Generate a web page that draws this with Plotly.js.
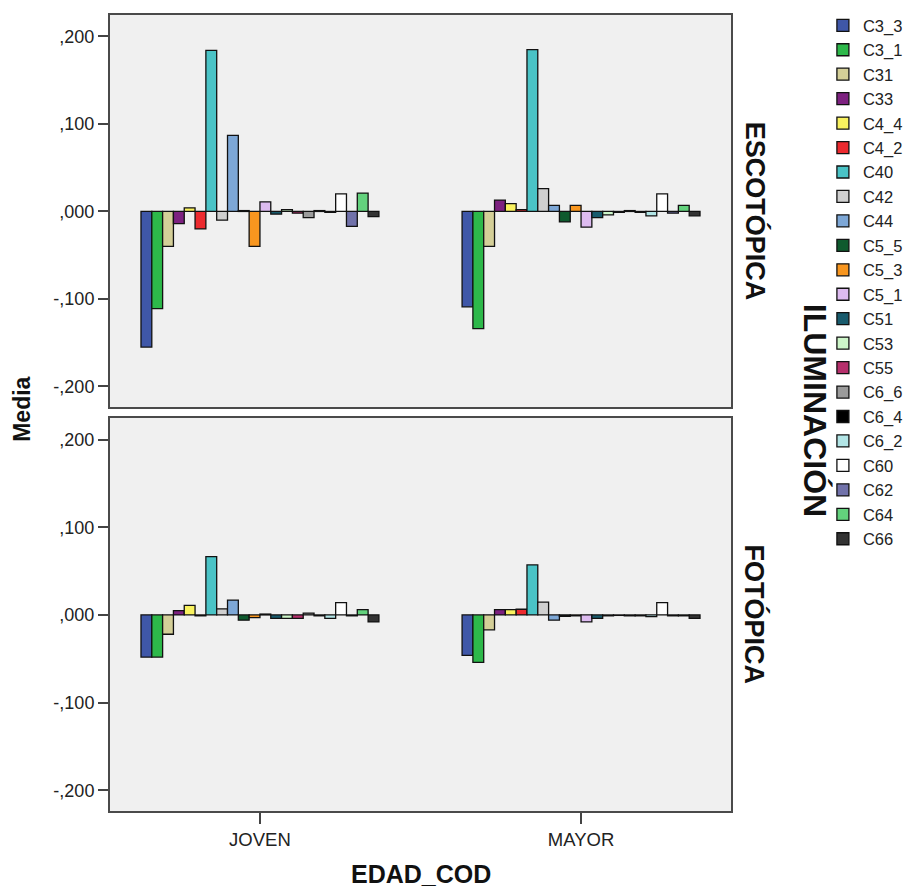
<!DOCTYPE html>
<html>
<head>
<meta charset="utf-8">
<script src="https://cdn.plot.ly/plotly-3.0.1.min.js"></script>
<style>
html,body{margin:0;padding:0;background:#fff;}
#chart{width:908px;height:891px;}
</style>
</head>
<body>
<div id="chart"></div>
<script>
const categories = ['JOVEN', 'MAYOR'];
const seriesNames = ['C3_3','C3_1','C31','C33','C4_4','C4_2','C40','C42','C44','C5_5','C5_3','C5_1','C51','C53','C55','C6_6','C6_4','C6_2','C60','C62','C64','C66'];
const seriesColors = ['#3F57A8','#2DB84A','#D4CF98','#7D2180','#F9F25F','#EC2A2F','#4AC3C6','#CFCFCF','#7DA7D6','#0F5A2E','#F8961F','#DDBBF0','#185B6D','#CDF6C9','#B6306C','#9B9B9B','#000000','#B2E5E6','#FFFFFF','#7172AA','#63D27D','#333333'];

// ESCOTÓPICA panel
const escJoven = [-0.155, -0.111, -0.040, -0.014, 0.004, -0.020, 0.184, -0.010, 0.087, 0.001, -0.040, 0.011, -0.003, 0.002, -0.002, -0.007, 0.001, -0.001, 0.020, -0.017, 0.021, -0.006];
const escMayor = [-0.109, -0.134, -0.040, 0.013, 0.009, 0.002, 0.185, 0.026, 0.007, -0.012, 0.007, -0.018, -0.007, -0.004, -0.001, 0.001, -0.001, -0.005, 0.020, -0.002, 0.007, -0.005];
// FOTÓPICA panel
const fotJoven = [-0.048, -0.048, -0.022, 0.005, 0.011, -0.001, 0.0665, 0.007, 0.017, -0.006, -0.003, 0.001, -0.004, -0.004, -0.004, 0.002, -0.001, -0.004, 0.014, -0.001, 0.006, -0.008];
const fotMayor = [-0.046, -0.054, -0.017, 0.006, 0.006, 0.0065, 0.057, 0.0145, -0.006, -0.0015, -0.001, -0.008, -0.004, -0.001, -0.0005, -0.001, -0.001, -0.002, 0.014, -0.001, -0.001, -0.004];

const yTickVals = [-0.2, -0.1, 0, 0.1, 0.2];
const yTickText = ['-,200', '-,100', ',000', ',100', ',200'];

const FONT = 'Liberation Sans, Arial, sans-serif';
const traces = [];
seriesNames.forEach((name, i) => {
  const common = {
    type: 'bar', name: name, legendgroup: name,
    marker: {color: seriesColors[i], line: {color: '#111', width: 1.3}},
    hoverinfo: 'name+y'
  };
  traces.push(Object.assign({}, common, {x: categories, y: [escJoven[i], escMayor[i]], xaxis: 'x', yaxis: 'y', showlegend: true}));
  traces.push(Object.assign({}, common, {x: categories, y: [fotJoven[i], fotMayor[i]], xaxis: 'x2', yaxis: 'y2', showlegend: false}));
});

const yAxisBase = {
  range: [-0.2235, 0.2245], tickvals: yTickVals, ticktext: yTickText,
  ticks: 'outside', ticklen: 10, tickwidth: 2, tickcolor: '#444',
  showline: true, linecolor: '#4a4a4a', linewidth: 2, mirror: true,
  showgrid: false, zeroline: false,
  tickfont: {family: FONT, size: 18, color: '#222'}
};
const xRange = [-0.467, 1.467];

const layout = {
  width: 908, height: 891,
  margin: {l: 110, r: 177, t: 15, b: 80, autoexpand: false},
  paper_bgcolor: '#ffffff', plot_bgcolor: '#F0F0F0',
  barmode: 'group', bargap: 0.259, bargroupgap: 0,
  font: {family: FONT, color: '#222'},
  xaxis: {anchor: 'y', range: xRange, showticklabels: false, ticks: '', showline: true, mirror: true, linecolor: '#4a4a4a', linewidth: 2, showgrid: false, zeroline: false},
  xaxis2: {anchor: 'y2', matches: 'x', range: xRange, ticks: 'outside', ticklen: 11, tickwidth: 2, tickcolor: '#444', showline: true, mirror: true, linecolor: '#4a4a4a', linewidth: 2, showgrid: false, zeroline: false, tickfont: {family: FONT, size: 18.5, color: '#222'}},
  yaxis: Object.assign({}, yAxisBase, {domain: [0.5075, 1], anchor: 'x'}),
  yaxis2: Object.assign({}, yAxisBase, {domain: [0, 0.4937], anchor: 'x2'}),
  showlegend: true,
  legend: {
    x: 1.148, xanchor: 'left', y: 1.0087, yanchor: 'top',
    font: {family: FONT, size: 16.5, color: '#222'},
    bgcolor: 'rgba(0,0,0,0)', borderwidth: 0, traceorder: 'normal',
    itemwidth: 30, maxheight: 1
  },
  annotations: [
    {text: '<b>ESCOTÓPICA</b>', xref: 'paper', yref: 'paper', x: 1.0, xshift: 24, y: 0.754, textangle: 90, showarrow: false, font: {family: FONT, size: 27, color: '#111'}, xanchor: 'center', yanchor: 'middle'},
    {text: '<b>FOTÓPICA</b>', xref: 'paper', yref: 'paper', x: 1.0, xshift: 24, y: 0.2469, textangle: 90, showarrow: false, font: {family: FONT, size: 27, color: '#111'}, xanchor: 'center', yanchor: 'middle'},
    {text: '<b>ILUMINACIÓN</b>', xref: 'paper', yref: 'paper', x: 1.0, xshift: 84, y: 0.504, textangle: 90, showarrow: false, font: {family: FONT, size: 32, color: '#111'}, xanchor: 'center', yanchor: 'middle'},
    {text: '<b>Media</b>', xref: 'paper', yref: 'paper', x: 0, xshift: -88, y: 0.504, textangle: -90, showarrow: false, font: {family: FONT, size: 23, color: '#111'}, xanchor: 'center', yanchor: 'middle'},
    {text: '<b>EDAD_COD</b>', xref: 'paper', yref: 'paper', x: 0.5, y: 0, yshift: -63, showarrow: false, font: {family: FONT, size: 25, color: '#111'}, xanchor: 'center', yanchor: 'middle'}
  ]
};

Plotly.newPlot('chart', traces, layout, {staticPlot: true, displayModeBar: false});
</script>
</body>
</html>
